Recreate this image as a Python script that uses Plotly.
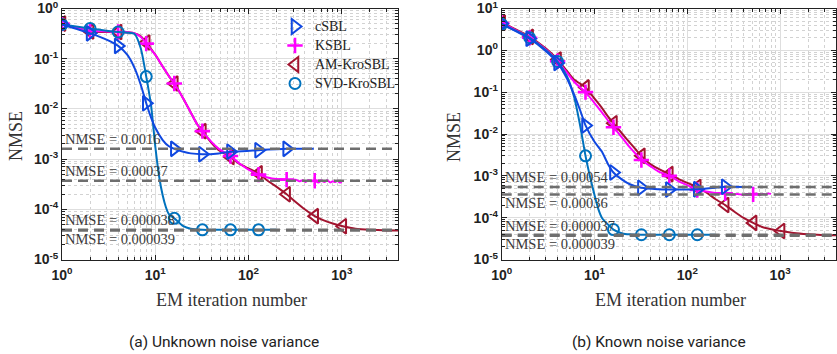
import math
import plotly.graph_objects as go

W, H = 837, 354

# ---------------- data: (a) unknown noise variance ----------------
a_csbl_iter = [1, 2, 3, 4, 5, 6, 7, 8, 9, 10, 12, 14, 16, 20, 24, 32, 48, 64, 96, 128, 256, 500]
a_csbl_nmse = [0.48, 0.32, 0.24, 0.18, 0.12, 0.065, 0.03, 0.013, 0.0068, 0.0042, 0.0024, 0.0018,
               0.0016, 0.0014, 0.0013, 0.00125, 0.0013, 0.0014, 0.00145, 0.0015, 0.0016, 0.0016]

a_ksbl_iter = [1, 2, 3, 4, 5, 6, 7, 8, 10, 12, 14, 16, 20, 24, 28, 32, 40, 48, 64, 80, 100, 128, 160,
               200, 256, 290, 320, 350, 380, 410, 440, 470, 512, 560, 600, 650, 700, 750, 800, 850,
               900, 950, 1000]
a_ksbl_nmse = [0.5, 0.36, 0.35, 0.34, 0.335, 0.32, 0.27, 0.2, 0.12, 0.07, 0.045, 0.032, 0.016,
               0.0085, 0.005, 0.0036, 0.0022, 0.0016, 0.00115, 0.00082, 0.00062, 0.00049, 0.00043,
               0.0004, 0.00039, 0.00037, 0.00039, 0.00036, 0.00038, 0.00035, 0.00038, 0.00036,
               0.00037, 0.00034, 0.00037, 0.00035, 0.00038, 0.00034, 0.00036, 0.00035, 0.00037,
               0.00034, 0.00035]

a_am_iter = [1, 2, 3, 4, 5, 6, 7, 8, 10, 12, 14, 16, 20, 24, 28, 32, 40, 48, 64, 80, 100, 128, 160,
             200, 256, 320, 400, 512, 640, 800, 1024, 1400, 2000, 3000, 4096]
a_am_nmse = [0.5, 0.35, 0.34, 0.34, 0.335, 0.32, 0.28, 0.21, 0.12, 0.07, 0.045, 0.032, 0.016, 0.0085,
             0.005, 0.0036, 0.0021, 0.0015, 0.0011, 0.0008, 0.00065, 0.00052, 0.00037, 0.00028,
             0.0002, 0.00014, 0.0001, 0.000073, 0.00006, 0.000052, 0.000046, 0.000041, 0.000039,
             0.000038, 0.000038]

a_svd_iter = [1, 2, 3, 4, 5, 6, 7, 8, 9, 10, 11, 12, 13, 14, 16, 20, 24, 32, 48, 64, 128, 200]
a_svd_nmse = [0.48, 0.4, 0.36, 0.34, 0.33, 0.31, 0.16, 0.044, 0.012, 0.0018, 0.00045, 0.00019,
              0.00011, 0.00008, 0.000066, 0.000046, 0.000041, 0.000039, 0.000039, 0.000039,
              0.000039, 0.000039]

a_ref_values = [0.0016, 0.00037, 0.000038, 0.000039]
a_ref_labels = ["0.0016", "0.00037", "0.000038", "0.000039"]
a_ref_side = ["above", "above", "above", "below"]

# ---------------- data: (b) known noise variance ----------------
b_csbl_iter = [1, 2, 3, 4, 5, 6, 7, 8, 10, 12, 14, 16, 20, 24, 32, 48, 64, 96, 128, 200, 256, 500]
b_csbl_nmse = [4.3, 1.9, 0.95, 0.5, 0.22, 0.09, 0.037, 0.016, 0.0065, 0.0038, 0.0019, 0.0012,
               0.0008, 0.00063, 0.00052, 0.00048, 0.00047, 0.00047, 0.00048, 0.00052, 0.00055, 0.00054]

b_ksbl_iter = [1, 2, 3, 4, 5, 6, 7, 8, 10, 12, 14, 16, 20, 24, 28, 32, 40, 48, 64, 80, 100, 128, 160,
               200, 256, 300, 350, 400, 450, 512, 560, 600, 650, 700, 750, 800]
b_ksbl_nmse = [4.5, 2.0, 1.05, 0.55, 0.3, 0.18, 0.13, 0.1, 0.055, 0.033, 0.021, 0.0145, 0.008,
               0.0048, 0.0033, 0.0024, 0.0017, 0.0013, 0.001, 0.00075, 0.0006, 0.00046, 0.00042,
               0.00039, 0.00038, 0.00036, 0.00037, 0.00035, 0.00037, 0.00036, 0.00038, 0.00035,
               0.00037, 0.00036, 0.00038, 0.00037]

b_am_iter = [1, 2, 3, 4, 5, 6, 7, 8, 10, 12, 14, 16, 20, 24, 28, 32, 40, 48, 64, 80, 100, 128, 160,
             200, 256, 320, 400, 512, 640, 800, 1024, 1400, 2000, 3000, 4096]
b_am_nmse = [4.6, 2.1, 1.1, 0.6, 0.33, 0.2, 0.16, 0.13, 0.07, 0.042, 0.026, 0.018, 0.01, 0.0062,
             0.0042, 0.003, 0.0019, 0.0015, 0.0011, 0.00085, 0.00068, 0.00054, 0.0004, 0.00028,
             0.0002, 0.00014, 0.0001, 0.000075, 0.00006, 0.000053, 0.000048, 0.000043, 0.00004,
             0.000038, 0.000038]

b_svd_iter = [1, 2, 3, 4, 5, 6, 7, 8, 9, 10, 11, 12, 14, 16, 20, 24, 32, 64, 128, 200]
b_svd_nmse = [4.2, 2.0, 1.0, 0.54, 0.25, 0.08, 0.016, 0.003, 0.0009, 0.00035, 0.00016, 0.0001,
              0.000068, 0.000052, 0.000042, 0.00004, 0.000039, 0.000039, 0.000039, 0.000039]

b_ref_values = [0.00054, 0.00036, 0.000037, 0.000039]
b_ref_labels = ["0.00054", "0.00036", "0.000037", "0.000039"]
b_ref_side = ["above", "below", "above", "below"]

# ---------------- axes / labels ----------------
x_range_iter = [1, 4000]
x_tick_exps = [0, 1, 2, 3]
a_y_tick_exps = [-5, -4, -3, -2, -1, 0]
b_y_tick_exps = [-5, -4, -3, -2, -1, 0, 1]
marker_iters = [2 ** k for k in range(11)]
captions = ["(a) Unknown noise variance", "(b) Known noise variance"]
x_title = "EM iteration number"
y_title = "NMSE"

methods = ["cSBL", "KSBL", "AM-KroSBL", "SVD-KroSBL"]
colors = {"cSBL": "#1048E0", "KSBL": "#FF00FF", "AM-KroSBL": "#A2142F", "SVD-KroSBL": "#0072BD"}
symbols = {"cSBL": "triangle-right-open", "KSBL": "cross-thin-open",
           "AM-KroSBL": "triangle-left-open", "SVD-KroSBL": "circle-open"}
sizes = {"cSBL": 13, "KSBL": 11, "AM-KroSBL": 13, "SVD-KroSBL": 11}
mline = {"cSBL": 2, "KSBL": 2.6, "AM-KroSBL": 2, "SVD-KroSBL": 2}
draw_order = ["AM-KroSBL", "KSBL", "SVD-KroSBL", "cSBL"]

panels = [
    dict(xa="x", ya="y", data={"cSBL": (a_csbl_iter, a_csbl_nmse), "KSBL": (a_ksbl_iter, a_ksbl_nmse),
                               "AM-KroSBL": (a_am_iter, a_am_nmse), "SVD-KroSBL": (a_svd_iter, a_svd_nmse)},
         refs=(a_ref_values, a_ref_labels, a_ref_side), legend=True),
    dict(xa="x2", ya="y2", data={"cSBL": (b_csbl_iter, b_csbl_nmse), "KSBL": (b_ksbl_iter, b_ksbl_nmse),
                                 "AM-KroSBL": (b_am_iter, b_am_nmse), "SVD-KroSBL": (b_svd_iter, b_svd_nmse)},
         refs=(b_ref_values, b_ref_labels, b_ref_side), legend=False),
]

fig = go.Figure()
annotations = []
serif = "Liberation Serif, Times New Roman, serif"

for p in panels:
    for m in draw_order:
        it, v = p["data"][m]
        fig.add_trace(go.Scatter(x=it, y=v, mode="lines", xaxis=p["xa"], yaxis=p["ya"],
                                 line=dict(color=colors[m], width=2, shape="spline", smoothing=0.6),
                                 showlegend=False, hoverinfo="skip"))
        mk = [(a, b) for a, b in zip(it, v) if a in marker_iters]
        fig.add_trace(go.Scatter(x=[a for a, _ in mk], y=[b for _, b in mk], mode="markers",
                                 xaxis=p["xa"], yaxis=p["ya"],
                                 name='<span style="font-size:14px">%s</span>' % m,
                                 legendrank=methods.index(m) + 1,
                                 marker=dict(symbol=symbols[m], size=sizes[m], color=colors[m],
                                             line=dict(color=colors[m], width=mline[m])),
                                 showlegend=p["legend"]))
    vals, labels, sides = p["refs"]
    for val, lab, side in zip(vals, labels, sides):
        fig.add_trace(go.Scatter(x=x_range_iter, y=[val, val], mode="lines", xaxis=p["xa"], yaxis=p["ya"],
                                 line=dict(color="#6E6E6E", width=2.5, dash="10px,6px"),
                                 showlegend=False, hoverinfo="skip"))
        annotations.append(dict(xref=p["xa"], yref=p["ya"], x=0, y=math.log10(val), xanchor="left",
                                yanchor="bottom" if side == "above" else "top",
                                xshift=1, yshift=0 if side == "above" else 1,
                                text="NMSE = " + lab, showarrow=False,
                                font=dict(family=serif, size=14.5, color="#3A3A3A")))

tick_font = dict(family="Liberation Sans, Arial, sans-serif", size=14, color="#222222")


def common(rng, vals, texts):
    return dict(type="log", range=rng, tickvals=vals, ticktext=texts, automargin=False,
                tickfont=tick_font, ticks="inside", ticklen=5, tickcolor="#222",
                ticklabeloverflow="allow",
                showline=True, linecolor="#222", linewidth=1, mirror="allticks",
                showgrid=True, gridcolor="#DEDEDE", gridwidth=1, zeroline=False,
                minor=dict(dtick="D1", ticks="inside", ticklen=3, tickcolor="#222",
                           showgrid=True, gridcolor="#D2D2D2", griddash="dot", gridwidth=1))


def xaxis_cfg(domain, anchor):
    d = common([0, math.log10(x_range_iter[1])], [10 ** e for e in x_tick_exps],
               ["<b>10<sup>%d</sup></b>" % e for e in x_tick_exps])
    d.update(domain=domain, anchor=anchor, ticklabelstandoff=3)
    return d


def yaxis_cfg(domain, anchor, exps):
    d = common([exps[0], exps[-1]], [10 ** e for e in exps],
               ["<b>10<sup>%d</sup></b>" % e for e in exps])
    d.update(domain=domain, anchor=anchor)
    return d


ydom = [1 - 259.5 / H, 1 - 8.5 / H]
title_font = dict(family=serif, size=18, color="#333")
# axis titles (x centre px, y centre px)
for (xc, yc) in [(231, 300), (670, 300)]:
    annotations.append(dict(xref="paper", yref="paper", x=xc / W, y=1 - yc / H, xanchor="center",
                            yanchor="middle", text=x_title, showarrow=False, font=title_font))
for (xc, yc) in [(16, 136), (454, 137)]:
    annotations.append(dict(xref="paper", yref="paper", x=xc / W, y=1 - yc / H, xanchor="center",
                            yanchor="middle", text=y_title, textangle=-90, showarrow=False,
                            font=title_font))
for cx, cap in zip([224, 659], captions):
    annotations.append(dict(xref="paper", yref="paper", x=cx / W, y=1 - 342 / H, xanchor="center",
                            yanchor="middle", text=cap, showarrow=False,
                            font=dict(family="Roboto, sans-serif", size=15.5, color="#222")))

fig.update_layout(
    width=W, height=H, margin=dict(l=0, r=0, t=0, b=0, autoexpand=False),
    paper_bgcolor="white", plot_bgcolor="white",
    xaxis=xaxis_cfg([62 / W, 398 / W], "y"),
    yaxis=yaxis_cfg(ydom, "x", a_y_tick_exps),
    xaxis2=xaxis_cfg([501.7 / W, 836 / W], "y2"),
    yaxis2=yaxis_cfg(ydom, "x2", b_y_tick_exps),
    legend=dict(x=275 / W, y=1 - 12 / H, xanchor="left", yanchor="top", bgcolor="rgba(0,0,0,0)",
                font=dict(family=serif, size=12, color="#222"), itemwidth=30,
                tracegroupgap=0),
    annotations=annotations,
    showlegend=True,
)

fig.write_html("out.html")
